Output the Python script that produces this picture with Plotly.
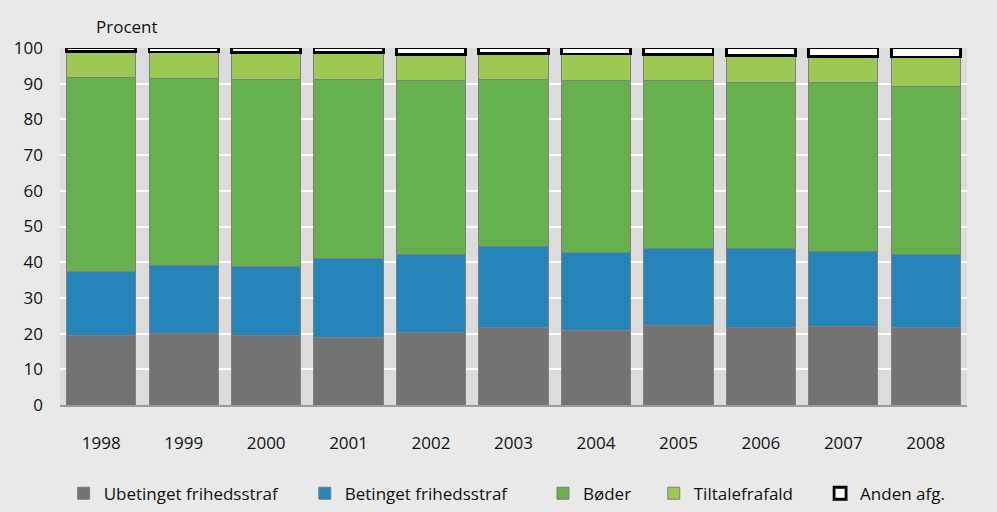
import plotly.graph_objects as go

years = ["1998", "1999", "2000", "2001", "2002", "2003", "2004", "2005", "2006", "2007", "2008"]

ubetinget = [19.5, 20.1, 19.4, 18.9, 20.2, 21.7, 20.9, 22.4, 21.8, 22.1, 21.6]
betinget = [17.9, 19.1, 19.4, 22.0, 22.0, 22.6, 21.8, 21.4, 21.9, 20.8, 20.6]
boeder = [54.4, 52.2, 52.5, 50.3, 48.7, 47.0, 48.3, 47.2, 46.7, 47.3, 47.0]
tiltale = [7.2, 7.5, 7.5, 7.5, 7.3, 7.1, 7.3, 7.1, 7.4, 7.4, 8.3]
anden = [1.0, 1.1, 1.2, 1.3, 1.8, 1.6, 1.7, 1.9, 2.2, 2.4, 2.5]

NB = "\u00a0"  # trailing padding widens legend entries to match spacing
series = [
    ("Ubetinget frihedsstraf" + NB * 5, ubetinget, "#737373"),
    ("Betinget frihedsstraf" + NB * 7, betinget, "#2584b8"),
    ("Bøder" + NB * 4, boeder, "#67b04e"),
    ("Tiltalefrafald" + NB * 5, tiltale, "#9dc854"),
]

FONT = "Open Sans"

fig = go.Figure()
for name, vals, color in series:
    fig.add_trace(go.Bar(
        x=years, y=vals, name=name,
        marker=dict(color=color, line=dict(color="#7f7f7f", width=1)),
    ))

fig.add_trace(go.Bar(
    x=years, y=anden, name="Anden afg.",
    marker=dict(color="#ffffff", line=dict(color="#000000", width=2.8)),
))

fig.add_annotation(
    text="Procent", xref="paper", yref="paper", x=0.038, y=1.0,
    xanchor="left", yanchor="bottom", yshift=8, showarrow=False,
    font=dict(family=FONT, size=17, color="#111111"),
)

fig.update_layout(
    width=997, height=512,
    barmode="stack", bargap=0.16,
    paper_bgcolor="#e9e9e9", plot_bgcolor="#dcdcdc",
    margin=dict(l=60, r=30, t=48, b=107, autoexpand=False),
    font=dict(family=FONT, size=17, color="#111111"),
    xaxis=dict(
        showgrid=False, showline=True, linecolor="#9a9a9a", linewidth=1.5,
        ticks="", ticklabelstandoff=22, tickfont=dict(size=17), automargin=False,
    ),
    yaxis=dict(
        range=[0, 100], dtick=10, showgrid=True, gridcolor="#ffffff", gridwidth=2,
        zeroline=False, ticks="", ticklabelstandoff=16, tickfont=dict(size=17),
        automargin=False,
    ),
    legend=dict(
        orientation="h", x=0.004, y=-0.198, xanchor="left", yanchor="top",
        traceorder="normal", font=dict(size=17), itemwidth=30,
        bgcolor="rgba(0,0,0,0)",
    ),
)

# drop the browser's default body margin so the figure sits at the window origin
fig.write_html(
    "out.html",
    config={"displayModeBar": False},
    post_script="document.body.style.margin='0';",
)
